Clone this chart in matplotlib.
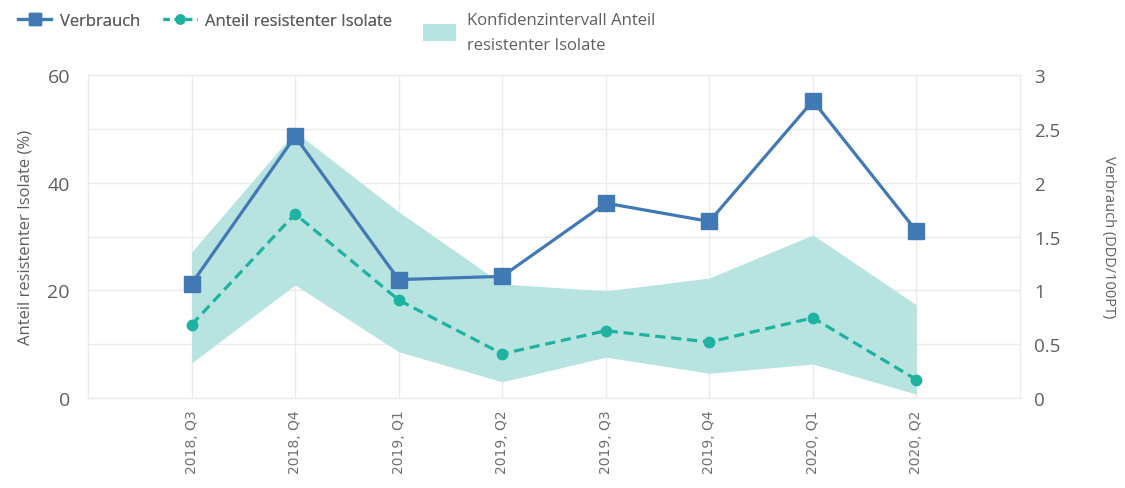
import matplotlib
matplotlib.use("Agg")
import matplotlib.pyplot as plt
from matplotlib.lines import Line2D
from matplotlib.patches import Patch
from matplotlib.ticker import MultipleLocator, FuncFormatter

plt.rcParams['font.family'] = ['Open Sans', 'DejaVu Sans']

categories = ["2018, Q3", "2018, Q4", "2019, Q1", "2019, Q2",
              "2019, Q3", "2019, Q4", "2020, Q1", "2020, Q2"]
verbrauch = [1.06, 2.43, 1.10, 1.13, 1.81, 1.64, 2.76, 1.55]
anteil = [13.6, 34.2, 18.2, 8.2, 12.5, 10.4, 14.9, 3.4]
ci_upper = [27.1, 49.5, 34.6, 21.2, 19.9, 22.3, 30.3, 17.3]
ci_lower = [6.5, 21.0, 8.6, 3.0, 7.6, 4.6, 6.3, 0.7]

BLUE = "#4179b4"
TEAL = "#1fb2a2"
FILL = "#b7e4e0"
GRID = "#ebebeb"
TXT = "#5f5f5f"

fig = plt.figure(figsize=(11.25, 4.89), dpi=100)
ax = fig.add_axes([0.0782, 0.184, 0.8285, 0.6606])
x = list(range(len(categories)))

ax.fill_between(x, ci_lower, ci_upper, color=FILL, lw=0, zorder=2)
ax.plot(x, anteil, color=TEAL, lw=2.3, ls=(0, (3.2, 1.8)), marker='o', ms=7.5,
        zorder=3)
ax.set_xlim(-1, len(categories))
ax.set_ylim(0, 60)
ax.yaxis.set_major_locator(MultipleLocator(20))
ax.yaxis.set_minor_locator(MultipleLocator(10))
ax.grid(True, which='both', axis='y', color=GRID, lw=1, zorder=0)
ax.grid(True, which='major', axis='x', color=GRID, lw=1, zorder=0)
ax.set_axisbelow(True)
ax.set_xticks(x)
ax.set_xticklabels(categories, rotation=90, fontsize=10, color="#707070",
                   family=['DejaVu Sans'])
ax.tick_params(axis='both', which='both', length=0)
ax.tick_params(axis='y', labelsize=14, labelcolor=TXT, pad=13)
ax.tick_params(axis='x', pad=8)
ax.set_ylabel("Anteil resistenter Isolate (%)", fontsize=12, color=TXT,
              labelpad=10)
for s in ax.spines.values():
    s.set_color(GRID)
    s.set_linewidth(1)

ax2 = ax.twinx()
ax2.plot(x, verbrauch, color=BLUE, lw=2.3, marker='s', ms=11, zorder=4)
ax2.set_ylim(0, 3)
ax2.yaxis.set_major_locator(MultipleLocator(0.5))
ax2.yaxis.set_major_formatter(FuncFormatter(lambda v, p: f"{v:g}"))
ax2.tick_params(axis='y', length=0, labelsize=13.5, labelcolor=TXT, pad=10)
ax2.set_ylabel("Verbrauch (DDD/100PT)", fontsize=10.5, color=TXT, rotation=270,
               labelpad=40)
for s in ax2.spines.values():
    s.set_visible(False)

h1 = Line2D([], [], color=BLUE, lw=2.3, marker='s', ms=9)
h2 = Line2D([], [], color=TEAL, lw=2.3, ls=(0, (2, 1.5)), marker='o', ms=6.5)
leg1 = fig.legend([h1, h2], ["Verbrauch", "Anteil resistenter Isolate"],
                  loc='upper left', bbox_to_anchor=(18 / 1125, 1 - 14 / 489),
                  ncol=2, frameon=False, fontsize=12, labelcolor=TXT,
                  borderpad=0, borderaxespad=0,
                  handlelength=2.0, handletextpad=0.5, columnspacing=1.4)
h3 = Patch(color=FILL, lw=0)
leg2 = fig.legend([h3], ["Konfidenzintervall Anteil\nresistenter Isolate"],
                  loc='upper left', bbox_to_anchor=(423 / 1125, 1 - 13 / 489),
                  frameon=False, fontsize=12, labelcolor=TXT,
                  borderpad=0, borderaxespad=0,
                  handlelength=2.0, handleheight=1.2, handletextpad=0.65)
leg2.get_texts()[0].set_linespacing(1.75)
fig.add_artist(leg1)

fig.savefig("out.png", dpi=100, facecolor='white')
